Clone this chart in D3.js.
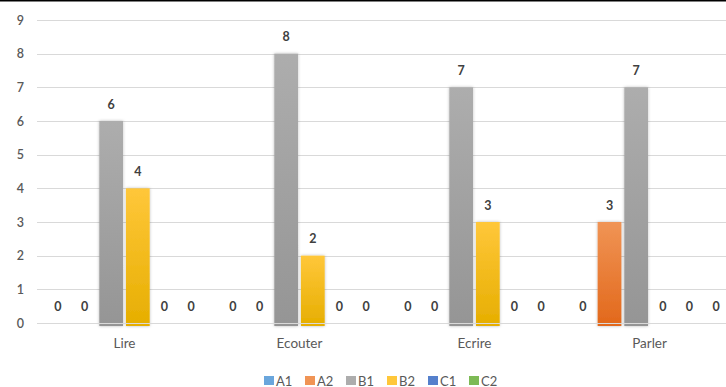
<!DOCTYPE html>
<html>
<head>
<meta charset="utf-8">
<script src="https://cdn.jsdelivr.net/npm/d3@7"></script>
<style>
  html, body { margin: 0; padding: 0; background: #fff; }
  svg { display: block; font-family: Lato, "Open Sans", "Liberation Sans", sans-serif; }
</style>
</head>
<body>
<svg id="chart" width="726" height="387"></svg>
<script>
// ---- data ----
const categories = ["Lire", "Ecouter", "Ecrire", "Parler"];
const seriesNames = ["A1", "A2", "B1", "B2", "C1", "C2"];
const A1 = [0, 0, 0, 0];
const A2 = [0, 0, 0, 3];
const B1 = [6, 8, 7, 7];
const B2 = [4, 2, 3, 0];
const C1 = [0, 0, 0, 0];
const C2 = [0, 0, 0, 0];
const yTicks = [0, 1, 2, 3, 4, 5, 6, 7, 8, 9];

const seriesValues = [A1, A2, B1, B2, C1, C2];
const colors = {
  A1: ["#6aa6dc", "#4f8cc6"],
  A2: ["#f09455", "#e2681b"],
  B1: ["#adadad", "#959595"],
  B2: ["#ffc73a", "#e6ae00"],
  C1: ["#5580cc", "#3a64b4"],
  C2: ["#7dba55", "#5f9a3a"]
};

const svg = d3.select("#chart");
const W = 726, H = 387;

const x0 = d3.scaleBand().domain(categories).range([37, 737]).paddingInner(0.086).paddingOuter(0.043);
const x1 = d3.scaleBand().domain(seriesNames).range([0, x0.bandwidth()]).paddingInner(0.11).paddingOuter(0.055);
const y = d3.scaleLinear().domain([0, 9]).range([323, 20]);

// defs
const defs = svg.append("defs");
seriesNames.forEach(s => {
  const g = defs.append("linearGradient").attr("id", "g" + s).attr("x1", 0).attr("y1", 0).attr("x2", 0).attr("y2", 1);
  g.append("stop").attr("offset", "0%").attr("stop-color", colors[s][0]);
  g.append("stop").attr("offset", "100%").attr("stop-color", colors[s][1]);
});
const f = defs.append("filter").attr("id", "shadow").attr("x", "-30%").attr("y", "-10%").attr("width", "160%").attr("height", "120%");
f.append("feDropShadow").attr("dx", 0).attr("dy", 0).attr("stdDeviation", 1.4).attr("flood-color", "#000").attr("flood-opacity", 0.28);

// top border line
svg.append("line").attr("x1", 0).attr("x2", W).attr("y1", 0.75).attr("y2", 0.75).attr("stroke", "#000").attr("stroke-width", 1.5);

// gridlines
svg.append("g").selectAll("line").data(yTicks).join("line")
  .attr("x1", 37).attr("x2", W)
  .attr("y1", d => Math.round(y(d)) + 0.5).attr("y2", d => Math.round(y(d)) + 0.5)
  .attr("stroke", "#d9d9d9").attr("stroke-width", 1.2);

// y tick labels
svg.append("g").selectAll("text").data(yTicks).join("text")
  .attr("x", 24).attr("y", d => y(d) + 4.5)
  .attr("text-anchor", "end")
  .attr("font-size", 12.5).attr("font-weight", 600).attr("fill", "#595959")
  .text(d => d);

// bars
const flat = [];
categories.forEach((c, i) => {
  seriesNames.forEach((s, j) => flat.push({ cat: c, s, v: seriesValues[j][i] }));
});

svg.append("g").selectAll("rect").data(flat.filter(d => d.v > 0)).join("rect")
  .attr("x", d => x0(d.cat) + x1(d.s))
  .attr("width", x1.bandwidth())
  .attr("y", d => y(d.v))
  .attr("height", d => y(0) - y(d.v) + 3)
  .attr("fill", d => "url(#g" + d.s + ")")
  .attr("filter", "url(#shadow)");

// baseline drawn over bars
svg.append("line").attr("x1", 37).attr("x2", W)
  .attr("y1", Math.round(y(0)) + 0.5).attr("y2", Math.round(y(0)) + 0.5)
  .attr("stroke", "#d9d9d9").attr("stroke-width", 1.2);

// value labels
svg.append("g").selectAll("text").data(flat).join("text")
  .attr("x", d => x0(d.cat) + x1(d.s) + x1.bandwidth() / 2)
  .attr("y", d => y(d.v) - 12.5)
  .attr("text-anchor", "middle")
  .attr("font-size", 12.5).attr("font-weight", 700).attr("fill", "#404040")
  .text(d => d.v);

// category labels
svg.append("g").selectAll("text").data(categories).join("text")
  .attr("x", d => x0(d) + x0.bandwidth() / 2)
  .attr("y", 348)
  .attr("text-anchor", "middle")
  .attr("font-size", 13.5).attr("fill", "#595959")
  .text(d => d);

// legend
const lx = d3.scalePoint().domain(seriesNames).range([264, 469]);
const leg = svg.append("g").selectAll("g").data(seriesNames).join("g")
  .attr("transform", d => `translate(${lx(d)},0)`);
leg.append("rect").attr("x", 0).attr("y", 376).attr("width", 10).attr("height", 9)
  .attr("fill", d => colors[d][0]);
leg.append("text").attr("x", 12).attr("y", 385.5)
  .attr("font-size", 13).attr("fill", "#595959")
  .text(d => d);
</script>
</body>
</html>
